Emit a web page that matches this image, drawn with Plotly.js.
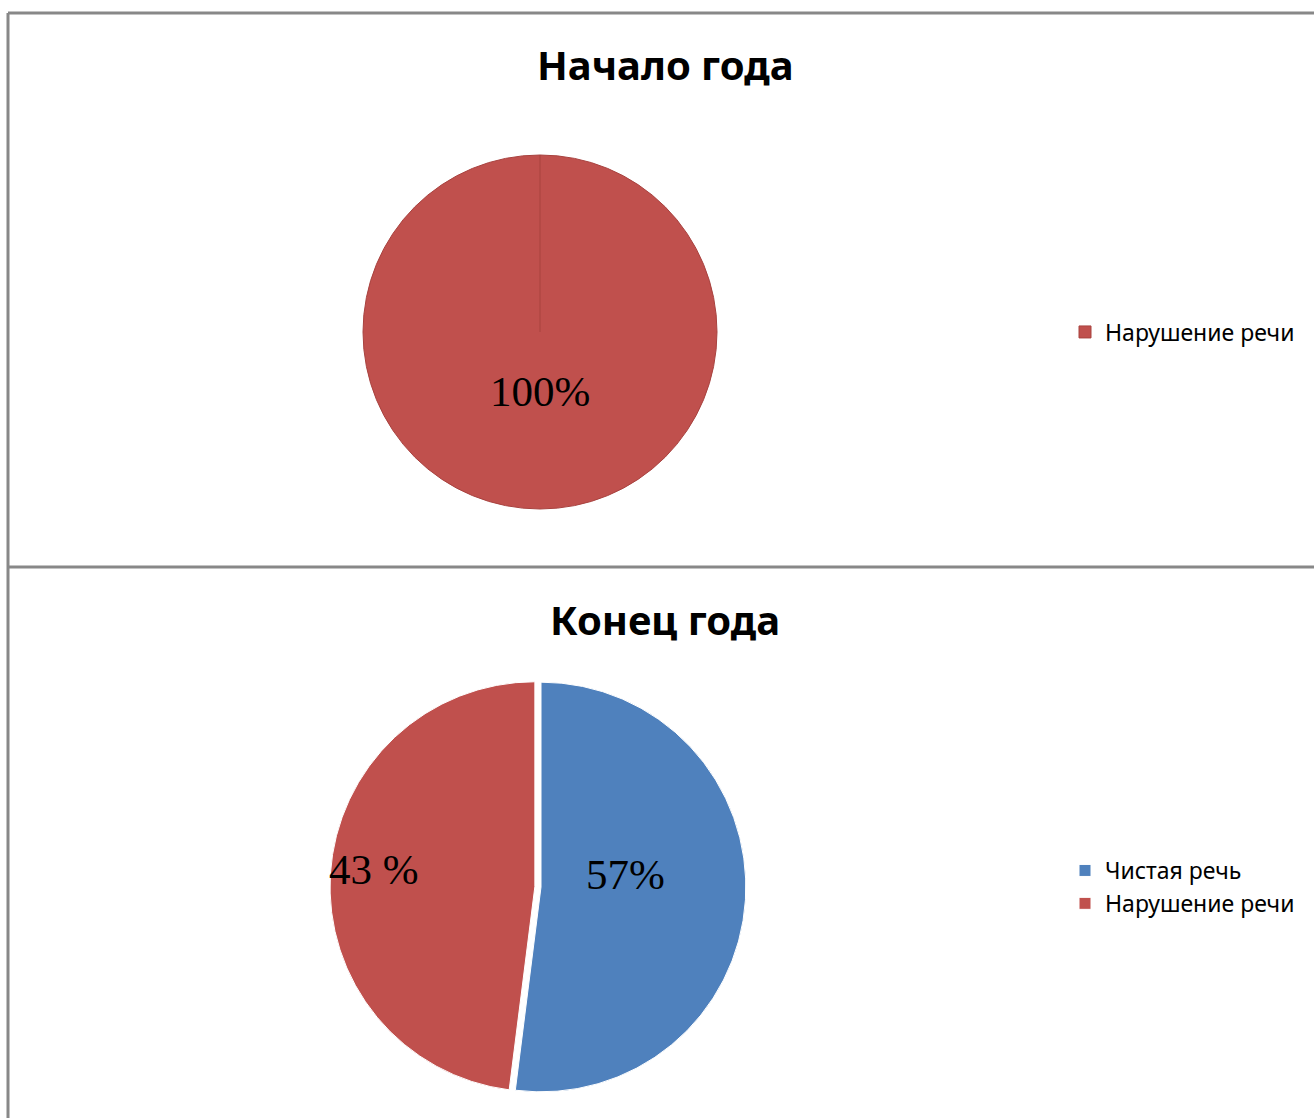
<!DOCTYPE html>
<html>
<head>
<meta charset="utf-8">
<script src="https://cdn.plot.ly/plotly-3.0.1.min.js"></script>
<style>html,body{margin:0;padding:0;background:#fff;}#chart{width:1314px;height:1118px;}</style>
</head>
<body>
<div id="chart"></div>
<script>
// ---- data ----
const chartTitles = ["Начало года", "Конец года"];
const startLabels = ["Нарушение речи"];
const startValues = [100];
const startText = ["100%"];
const endLabels = ["Чистая речь", "Нарушение речи"];
const endValues = [52, 48];          // slice sizes as drawn
const endText = ["57%", "43 %"];     // data labels as printed

const colorMap = {"Чистая речь": "#4F81BD", "Нарушение речи": "#C0504D"};

// ---- layout helpers ----
const W = 1314, H = 1118;
const px = x => x / W;
const py = y => 1 - y / H;

const topDomain = {x: [px(363), px(717)], y: [py(509), py(155)]};
const botDomain = {x: [px(330), px(752)], y: [py(1098), py(676)]};

const traces = [
  {
    type: "pie",
    labels: startLabels,
    values: startValues,
    text: startText,
    textinfo: "none",
    hoverinfo: "label+percent",
    sort: false,
    direction: "clockwise",
    rotation: 0,
    domain: topDomain,
    marker: {colors: startLabels.map(l => colorMap[l]), line: {color: "#A8423F", width: 1}},
    legend: "legend",
    legendgroup: "start",
    showlegend: true
  },
  {
    type: "pie",
    labels: endLabels,
    values: endValues,
    text: endText,
    textinfo: "none",
    hoverinfo: "label+percent",
    sort: false,
    direction: "clockwise",
    rotation: 0,
    pull: [0, 0.03],
    domain: botDomain,
    marker: {colors: endLabels.map(l => colorMap[l]), line: {color: "#ffffff", width: 1}},
    legend: "legend2",
    legendgroup: "end",
    showlegend: true
  }
];

const topCx = (topDomain.x[0] + topDomain.x[1]) / 2;
const topCy = (topDomain.y[0] + topDomain.y[1]) / 2;

const titleFont = {family: "Noto Sans, Open Sans, sans-serif", size: 40, color: "#000"};
const labelFont = {family: "Liberation Serif, Times New Roman, serif", size: 43, color: "#000"};
const legendFont = {family: "Noto Sans, Open Sans, sans-serif", size: 23, color: "#000"};

const annotations = [
  {text: "<b>" + chartTitles[0] + "</b>", x: px(665), y: py(64), xref: "paper", yref: "paper", showarrow: false, font: titleFont, xanchor: "center", yanchor: "middle"},
  {text: "<b>" + chartTitles[1] + "</b>", x: px(665), y: py(619), xref: "paper", yref: "paper", showarrow: false, font: titleFont, xanchor: "center", yanchor: "middle"},
  {text: startText[0], x: px(540), y: py(391), xref: "paper", yref: "paper", showarrow: false, font: labelFont, xanchor: "center", yanchor: "middle"},
  {text: endText[0], x: px(625), y: py(874), xref: "paper", yref: "paper", showarrow: false, font: labelFont, xanchor: "center", yanchor: "middle"},
  {text: endText[1], x: px(374), y: py(869), xref: "paper", yref: "paper", showarrow: false, font: labelFont, xanchor: "center", yanchor: "middle"}
];

const border = {color: "#888888", width: 3};
const shapes = [
  {type: "line", xref: "paper", yref: "paper", x0: px(8), x1: 1, y0: py(13), y1: py(13), line: border},
  {type: "line", xref: "paper", yref: "paper", x0: px(8), x1: 1, y0: py(567), y1: py(567), line: border},
  {type: "line", xref: "paper", yref: "paper", x0: px(8), x1: px(8), y0: py(13), y1: 0, line: border},
  // radial slice edge of the full-circle slice
  {type: "line", xref: "paper", yref: "paper", x0: topCx, x1: topCx, y0: topCy, y1: topDomain.y[1], line: {color: "#A8423F", width: 1}}
];

const layout = {
  width: W, height: H,
  margin: {l: 0, r: 0, t: 0, b: 0},
  paper_bgcolor: "#ffffff",
  plot_bgcolor: "#ffffff",
  showlegend: true,
  legend: {x: px(1065), y: py(332), xanchor: "left", yanchor: "middle", font: legendFont, bgcolor: "rgba(0,0,0,0)", itemclick: false, itemdoubleclick: false},
  legend2: {x: px(1065), y: py(887), xanchor: "left", yanchor: "middle", font: legendFont, bgcolor: "rgba(0,0,0,0)", itemclick: false, itemdoubleclick: false},
  annotations: annotations,
  shapes: shapes
};

Plotly.newPlot("chart", traces, layout, {displayModeBar: false, staticPlot: true});
</script>
</body>
</html>
